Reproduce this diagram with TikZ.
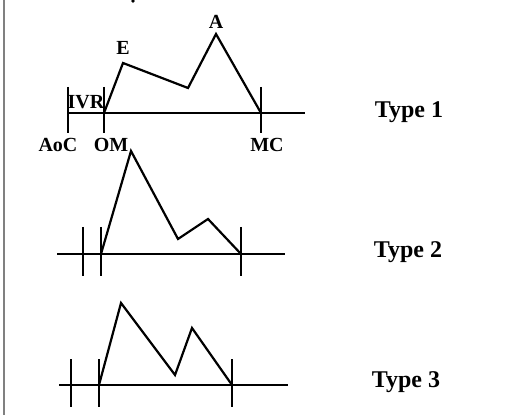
\documentclass[tikz,border=0pt]{standalone}
\usepackage{fontspec}
\setmainfont{Liberation Serif}
\usetikzlibrary{positioning}

\begin{document}
\begin{tikzpicture}[x=1pt,y=-1pt,
    lbl/.style={font=\fontsize{20}{20}\selectfont\bfseries,inner sep=0pt},
    typ/.style={font=\fontsize{24}{24}\selectfont\bfseries,inner sep=0pt},
    base/.style={line width=1.3pt},
    tick/.style={line width=1.4pt},
    wave/.style={line width=2.2pt,line join=miter}]
  \useasboundingbox (0,0) rectangle (521,419);
  \draw[gray,line width=1.2pt] (4,0) -- (4,415);
  \fill (133,1) circle (1.8);

  % Type 1
  \coordinate (b1l) at (68,113); \coordinate (b1r) at (305,113);
  \coordinate (aoc) at (68,113); \coordinate (om) at (104,113); \coordinate (mc) at (261,113);
  \coordinate (e) at (123,63); \coordinate (d1) at (188,88); \coordinate (a) at (216,34);
  \draw[base] (b1l) -- (b1r);
  \foreach \t in {aoc,om,mc} \draw[tick] ([yshift=26pt]\t) -- ([yshift=-20pt]\t);
  \draw[wave] (om) -- (e) -- (d1) -- (a) -- (mc);
  \node[lbl] (elbl) at (123,48) {E};
  \node[lbl] (albl) at (216,22) {A};
  \node[lbl] (ivr) at (86,102) {IVR};
  \node[lbl] (aoclbl) at (58,145) {AoC};
  \node[lbl] (omlbl) at (111,145) {OM};
  \node[lbl] (mclbl) at (267,145) {MC};
  \node[typ] (t1) at (409,112) {Type 1};

  % Type 2
  \coordinate (b2l) at (57,254); \coordinate (b2r) at (285,254);
  \coordinate (s2a) at (83,254); \coordinate (s2b) at (101,254); \coordinate (s2c) at (241,254);
  \coordinate (p2a) at (131,151); \coordinate (v2) at (178,239); \coordinate (p2b) at (208,219);
  \draw[base] (b2l) -- (b2r);
  \foreach \t in {s2a,s2b,s2c} \draw[tick] ([yshift=27pt]\t) -- ([yshift=-22pt]\t);
  \draw[wave] (s2b) -- (p2a) -- (v2) -- (p2b) -- (s2c);
  \node[typ] (t2) at (408,252) {Type 2};

  % Type 3
  \coordinate (b3l) at (59,385); \coordinate (b3r) at (288,385);
  \coordinate (s3a) at (71,385); \coordinate (s3b) at (99,385); \coordinate (s3c) at (232,385);
  \coordinate (p3a) at (121,303); \coordinate (v3) at (175,375); \coordinate (p3b) at (192,328);
  \draw[base] (b3l) -- (b3r);
  \foreach \t in {s3a,s3b,s3c} \draw[tick] ([yshift=26pt]\t) -- ([yshift=-22pt]\t);
  \draw[wave] (s3b) -- (p3a) -- (v3) -- (p3b) -- (s3c);
  \node[typ] (t3) at (406,382) {Type 3};
\end{tikzpicture}
\end{document}
